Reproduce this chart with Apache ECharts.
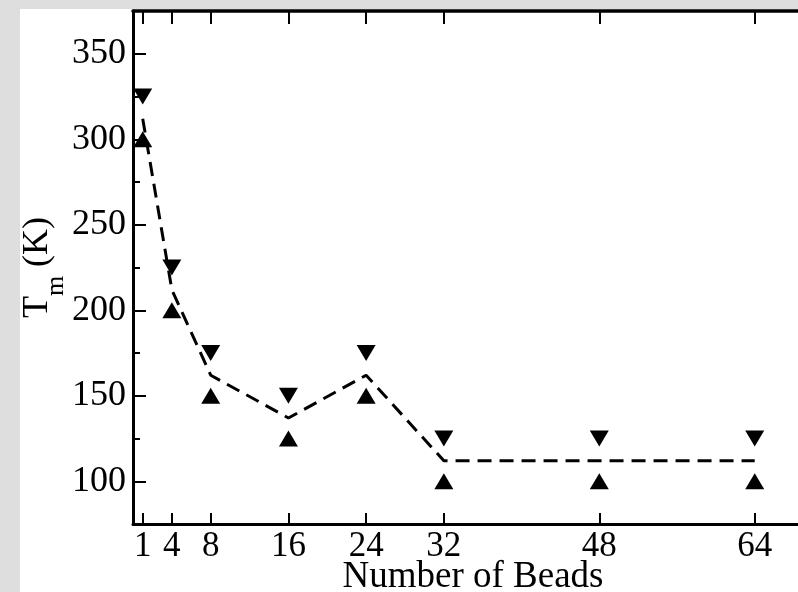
<!DOCTYPE html>
<html>
<head>
<meta charset="utf-8">
<script src="https://cdn.jsdelivr.net/npm/echarts@6/dist/echarts.min.js"></script>
<style>
  html, body { margin:0; padding:0; width:798px; height:592px; overflow:hidden; background:#dedede; }
  #chart { position:absolute; left:20px; top:9px; width:778px; height:583px; background:#ffffff; }
</style>
</head>
<body>
<div id="chart"></div>
<script>
// Data
const beads = [1, 4, 8, 16, 24, 32, 48, 64];
const upperTm = [325, 225, 175, 150, 175, 125, 125, 125];   // downward triangles
const lowerTm = [300, 200, 150, 125, 150, 100, 100, 100];   // upward triangles
const meanTm  = [312, 212, 162, 137, 162, 112, 112, 112];   // dashed line
const xTicks = [1, 4, 8, 16, 24, 32, 48, 64];
const yMajorTicks = [100, 150, 200, 250, 300, 350];
const yMinorTicks = [125, 175, 225, 275, 325];

const pairs = (xs, ys) => xs.map((x, i) => [x, ys[i]]);

const chart = echarts.init(document.getElementById('chart'), null, { renderer: 'canvas' });
const font = 'Liberation Serif';
const axisLine = { show: true, lineStyle: { color: '#000', width: 3 } };

chart.setOption({
  animation: false,
  backgroundColor: '#ffffff',
  grid: { left: 113, top: 2, width: 680, bottom: 68, containLabel: false, outerBoundsMode: 'none' },
  xAxis: [
    {
      type: 'value', position: 'bottom', min: 0, max: 70,
      axisLine: axisLine,
      axisTick: { show: true, inside: true, length: 11, customValues: xTicks, lineStyle: { color: '#000', width: 2 } },
      axisLabel: { show: true, customValues: xTicks, fontFamily: font, fontSize: 35, color: '#000', margin: 5 },
      splitLine: { show: false },
      name: 'Number of Beads', nameLocation: 'middle', nameGap: 35, nameMoveOverlap: false,
      nameTextStyle: { fontFamily: font, fontSize: 37, color: '#000' }
    },
    {
      type: 'value', position: 'top', min: 0, max: 70,
      axisLine: { show: true, lineStyle: { color: '#000', width: 3.5 } },
      axisTick: { show: true, inside: true, length: 13, customValues: xTicks, lineStyle: { color: '#000', width: 2 } },
      axisLabel: { show: false },
      splitLine: { show: false }
    }
  ],
  yAxis: [
    {
      type: 'value', position: 'left', min: 75, max: 375,
      axisLine: axisLine,
      axisTick: { show: true, inside: true, length: 13, customValues: yMajorTicks, lineStyle: { color: '#000', width: 2 } },
      axisLabel: { show: true, customValues: yMajorTicks, fontFamily: font, fontSize: 36, color: '#000', margin: 7 },
      splitLine: { show: false },
      name: '{t|T}{s|m}{t| (K)}', nameLocation: 'middle', nameRotate: 90, nameGap: 64, nameMoveOverlap: false,
      nameTextStyle: {
        fontFamily: font, color: '#000',
        rich: {
          t: { fontFamily: font, fontSize: 36, color: '#000' },
          s: { fontFamily: font, fontSize: 26, color: '#000', padding: [36, 0, 0, 0] }
        }
      }
    },
    {
      type: 'value', position: 'left', min: 75, max: 375,
      axisLine: { show: false },
      axisTick: { show: true, inside: true, length: 7, customValues: yMinorTicks, lineStyle: { color: '#000', width: 2 } },
      axisLabel: { show: false },
      splitLine: { show: false }
    }
  ],
  series: [
    {
      type: 'line', xAxisIndex: 0, yAxisIndex: 0,
      data: pairs(beads, meanTm),
      showSymbol: false, symbol: 'none',
      lineStyle: { color: '#000', width: 3, type: [14, 8] },
      z: 1
    },
    {
      type: 'scatter', xAxisIndex: 0, yAxisIndex: 0,
      data: pairs(beads, upperTm),
      symbol: 'triangle', symbolRotate: 180, symbolSize: [19, 16],
      itemStyle: { color: '#000', opacity: 1 },
      z: 3
    },
    {
      type: 'scatter', xAxisIndex: 0, yAxisIndex: 0,
      data: pairs(beads, lowerTm),
      symbol: 'triangle', symbolSize: [19, 16],
      itemStyle: { color: '#000', opacity: 1 },
      z: 3
    }
  ]
});
</script>
</body>
</html>
